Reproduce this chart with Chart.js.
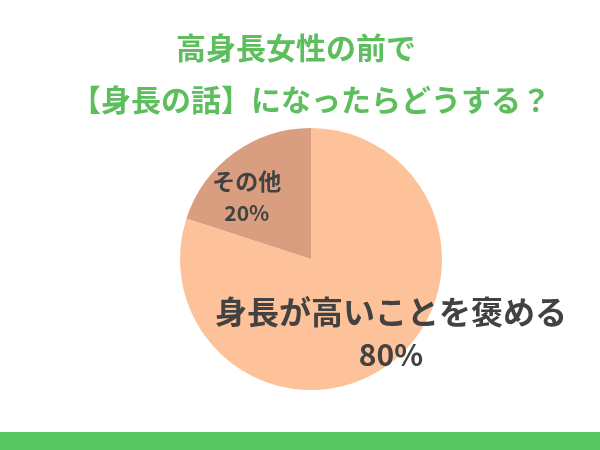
<!DOCTYPE html>
<html>
<head>
<meta charset="utf-8">
<script src="https://cdn.jsdelivr.net/npm/chart.js@4"></script>
<style>
  html, body { margin: 0; padding: 0; background: #ffffff; }
  .wrap { position: relative; width: 600px; height: 450px; }
  .footer { position: absolute; left: 0; bottom: 0; width: 600px; height: 18px; background: #58c862; }
</style>
</head>
<body>
<div class="wrap">
  <canvas id="pieGraph" width="600" height="450"></canvas>
  <div class="footer"></div>
</div>
<script>
const titleLines = ['高身長女性の前で　', '【身長の話】になったらどうする？']
const labels = ['身長が高いことを褒める', 'その他']
const values = [80, 20]
const colors = ['#fec29b', '#d99d7f']

// label block placement, as fraction of radius from the pie centre
const labelStyle = [
    { dx: 0.61, dy: 0.565, size: 32, gap: 43 },
    { dx: -0.49, dy: -0.47, size: 23, gap: 32 },
]

const sliceLabels = {
    id: 'sliceLabels',
    afterDatasetsDraw(chart) {
        const ctx = chart.ctx
        const arcs = chart.getDatasetMeta(0).data
        ctx.save()
        ctx.fillStyle = '#424242'
        ctx.textAlign = 'center'
        ctx.textBaseline = 'middle'
        arcs.forEach((arc, i) => {
            const st = labelStyle[i]
            const cx = arc.x + st.dx * arc.outerRadius
            const cy = arc.y + st.dy * arc.outerRadius
            ctx.font = 'bold ' + st.size + 'px "Noto Sans CJK JP"'
            ctx.fillText(labels[i], cx, cy - st.gap / 2)
            ctx.font = 'bold ' + (st.size - 2) + 'px "Noto Sans CJK JP"'
            ctx.fillText(values[i] + '%', cx, cy + st.gap / 2)
        })
        ctx.restore()
    }
}

const pie = new Chart(
    document.getElementById('pieGraph'),
    {
        type: 'pie',
        data: {
            labels: labels,
            datasets: [
                {
                    data: values,
                    backgroundColor: colors,
                    borderWidth: 0,
                },
            ],
        },
        options: {
            responsive: false,
            animation: false,
            layout: {
                padding: { left: 22, top: 0, bottom: 60, right: 0 }
            },
            plugins: {
                legend: { display: false },
                tooltip: { enabled: false },
                title: {
                    display: true,
                    text: titleLines,
                    color: '#5dbe5e',
                    padding: { top: 21, bottom: 2 },
                    font: {
                        family: 'Noto Sans CJK JP',
                        size: 30,
                        weight: 'bold',
                        lineHeight: 1.75,
                    }
                }
            }
        },
        plugins: [sliceLabels],
    }
);
</script>
</body>
</html>
